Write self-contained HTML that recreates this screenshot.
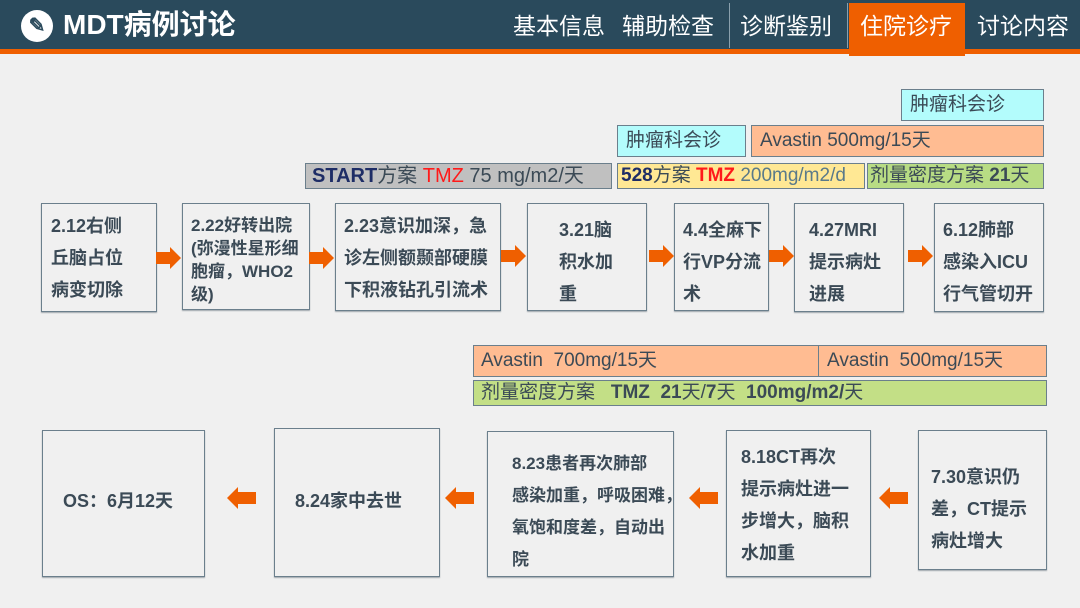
<!DOCTYPE html>
<html><head><meta charset="utf-8"><style>
*{margin:0;padding:0;box-sizing:border-box}
body{width:1080px;height:608px;background:#f0f0f0;position:relative;overflow:hidden;font-family:"Liberation Sans","Noto Sans CJK SC",sans-serif;color:#3b4a56}
.a{position:absolute}
.hdr{left:0;top:0;width:1080px;height:49px;background:#2a4a5c}
.ostrip{left:0;top:49px;width:1080px;height:5px;background:#ef5f00}
.nav{top:11px;color:#fff;font-size:23px;line-height:30px;white-space:nowrap}
.bx{position:absolute;border:1px solid #6b7f8c;background:#f0f0f0;font-weight:bold;font-size:18px;line-height:32px;padding-left:10px;box-shadow:0 1px 1px #a0a8ae;white-space:nowrap}
.bar{position:absolute;border:1px solid #6b7f8c;font-size:19px;line-height:30px;padding-left:6px;white-space:nowrap}
.arR{position:absolute;width:0;height:0;border-top:11px solid transparent;border-bottom:11px solid transparent;border-left:11px solid #ef5f00}
.arR:before{content:"";position:absolute;left:-25px;top:-6px;width:14px;height:12px;background:#ef5f00}
.arL{position:absolute;width:0;height:0;border-top:11px solid transparent;border-bottom:11px solid transparent;border-right:11px solid #ef5f00}
.arL:before{content:"";position:absolute;left:11px;top:-6px;width:18px;height:12px;background:#ef5f00}
</style></head><body>
<div class="a hdr"></div>
<div class="a ostrip"></div>
<div class="a" style="left:21px;top:10px;width:32px;height:32px;border-radius:50%;background:#fff;color:#2a4a5c;font-size:20px;line-height:32px;text-align:center;font-weight:bold">✎</div>
<div class="a" style="left:63px;top:8px;color:#fff;font-size:28px;font-weight:bold;line-height:34px">MDT病例讨论</div>
<div class="a nav" style="left:513px">基本信息</div>
<div class="a nav" style="left:622px">辅助检查</div>
<div class="a" style="left:729px;top:3px;width:1px;height:45px;background:#8aa0ad"></div>
<div class="a nav" style="left:740px">诊断鉴别</div>
<div class="a" style="left:847px;top:3px;width:1px;height:45px;background:#8aa0ad"></div>
<div class="a" style="left:849px;top:3px;width:116px;height:53px;background:#ef5f00"></div>
<div class="a nav" style="left:860px">住院诊疗</div>
<div class="a nav" style="left:977px">讨论内容</div>

<div class="bar" style="left:901px;top:89px;width:143px;height:32px;background:#b3fcfc;padding-left:8px">肿瘤科会诊</div>
<div class="bar" style="left:617px;top:125px;width:129px;height:32px;background:#b3fcfc;padding-left:8px">肿瘤科会诊</div>
<div class="bar" style="left:751px;top:125px;width:293px;height:32px;background:#ffbc92;padding-left:8px">Avastin 500mg/15天</div>
<div class="bar" style="left:305px;top:163px;width:307px;height:26px;line-height:24px;background:#c0c0c0;font-size:20px"><b style="color:#1e2d66">START</b>方案 <span style="color:#ff1a1a">TMZ</span> 75 mg/m2/天</div>
<div class="bar" style="left:617px;top:163px;width:248px;height:26px;line-height:24px;background:#ffe894;padding-left:3px;font-size:19px"><b style="color:#1e2d66">528</b>方案 <b style="color:#ff1a1a">TMZ</b> <span style="color:#5a7a8a">200mg/m2/d</span></div>
<div class="bar" style="left:867px;top:163px;width:177px;height:26px;line-height:24px;background:#b8dc84;padding-left:2px;font-size:19px">剂量密度方案 <b>21</b>天</div>

<div class="bx" style="left:41px;top:203px;width:116px;height:109px;padding-top:6px;padding-left:9px">2.12右侧<br>丘脑占位<br>病变切除</div>
<div class="bx" style="left:182px;top:203px;width:128px;height:107px;line-height:23px;padding-top:10px;padding-left:8px;font-size:17px">2.22好转出院<br>(弥漫性星形细<br>胞瘤，WHO2<br>级)</div>
<div class="bx" style="left:335px;top:203px;width:166px;height:108px;padding-top:6px;padding-left:8px">2.23意识加深，急<br>诊左侧额颞部硬膜<br>下积液钻孔引流术</div>
<div class="bx" style="left:527px;top:203px;width:120px;height:108px;padding-top:10px;padding-left:31px">3.21脑<br>积水加<br>重</div>
<div class="bx" style="left:674px;top:203px;width:95px;height:108px;padding-top:10px;padding-left:8px">4.4全麻下<br>行VP分流<br>术</div>
<div class="bx" style="left:794px;top:203px;width:110px;height:109px;padding-top:10px;padding-left:14px">4.27MRI<br>提示病灶<br>进展</div>
<div class="bx" style="left:934px;top:203px;width:110px;height:109px;padding-top:10px;padding-left:8px">6.12肺部<br>感染入ICU<br>行气管切开</div>
<div class="arR" style="left:170px;top:247px"></div>
<div class="arR" style="left:323px;top:247px"></div>
<div class="arR" style="left:515px;top:245px"></div>
<div class="arR" style="left:663px;top:245px"></div>
<div class="arR" style="left:783px;top:245px"></div>
<div class="arR" style="left:922px;top:245px"></div>

<div class="bar" style="left:473px;top:345px;width:346px;height:32px;background:#ffbc92;padding-left:7px">Avastin&nbsp; 700mg/15天</div>
<div class="bar" style="left:818px;top:345px;width:229px;height:32px;background:#ffbc92;padding-left:8px">Avastin&nbsp; 500mg/15天</div>
<div class="bar" style="left:473px;top:380px;width:574px;height:26px;line-height:24px;background:#c3df86;padding-left:7px">剂量密度方案&nbsp;&nbsp; <b>TMZ&nbsp; 21</b>天/<b>7</b>天&nbsp; <b>100mg/m2/</b>天</div>

<div class="bx" style="left:42px;top:430px;width:163px;height:147px;padding-top:54px;padding-left:20px">OS：6月12天</div>
<div class="bx" style="left:274px;top:428px;width:166px;height:149px;padding-top:56px;padding-left:20px">8.24家中去世</div>
<div class="bx" style="left:487px;top:431px;width:187px;height:146px;padding-top:16px;padding-left:24px;font-size:17px">8.23患者再次肺部<br>感染加重，呼吸困难，<br>氧饱和度差，自动出<br>院</div>
<div class="bx" style="left:726px;top:430px;width:145px;height:147px;padding-top:10px;padding-left:14px">8.18CT再次<br>提示病灶进一<br>步增大，脑积<br>水加重</div>
<div class="bx" style="left:918px;top:430px;width:129px;height:140px;padding-top:30px;padding-left:12px">7.30意识仍<br>差，CT提示<br>病灶增大</div>
<div class="arL" style="left:227px;top:487px"></div>
<div class="arL" style="left:445px;top:487px"></div>
<div class="arL" style="left:689px;top:487px"></div>
<div class="arL" style="left:879px;top:487px"></div>
</body></html>
